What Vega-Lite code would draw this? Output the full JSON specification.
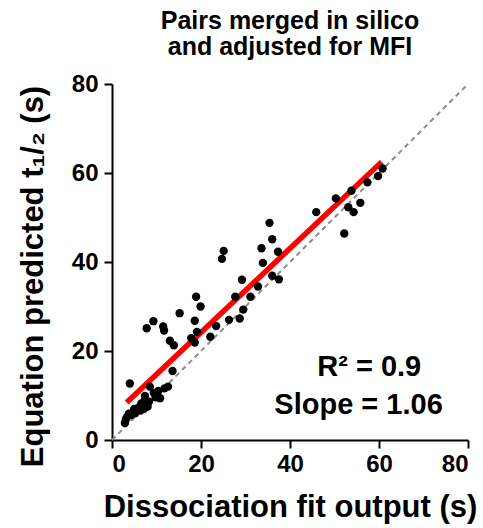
{
  "$schema": "https://vega.github.io/schema/vega-lite/v6.json",
  "width": 356,
  "height": 356,
  "autosize": "none",
  "padding": {"left": 112, "top": 84, "right": 15, "bottom": 88},
  "background": "white",
  "config": {
    "view": {"stroke": null},
    "font": "Liberation Sans",
    "axis": {
      "grid": false,
      "domainColor": "black",
      "domainWidth": 2,
      "tickColor": "black",
      "tickWidth": 2,
      "tickSize": 8,
      "labelFont": "Liberation Sans",
      "labelFontWeight": "bold",
      "labelFontSize": 24,
      "labelColor": "black",
      "titleFont": "Liberation Sans",
      "titleFontWeight": "bold",
      "titleFontSize": 31,
      "titleColor": "black"
    },
    "title": {
      "font": "Liberation Sans",
      "fontWeight": "bold",
      "fontSize": 25,
      "color": "black",
      "lineHeight": 26,
      "anchor": "middle",
      "offset": 12
    }
  },
  "title": {"text": ["Pairs merged in silico", "and adjusted for MFI"]},
  "datasets": {
    "points": [
      {"x": 60.8, "y": 61.0}, {"x": 59.8, "y": 59.3}, {"x": 57.4, "y": 57.9}, {"x": 53.8, "y": 56.0},
      {"x": 50.3, "y": 54.3}, {"x": 55.8, "y": 53.3}, {"x": 53.1, "y": 52.3}, {"x": 54.3, "y": 51.2},
      {"x": 52.2, "y": 46.4}, {"x": 45.9, "y": 51.2},
      {"x": 35.4, "y": 48.8}, {"x": 36.0, "y": 45.1}, {"x": 33.6, "y": 43.1}, {"x": 37.3, "y": 42.3},
      {"x": 33.9, "y": 39.8}, {"x": 36.0, "y": 36.9}, {"x": 37.5, "y": 36.1}, {"x": 32.8, "y": 34.5},
      {"x": 25.1, "y": 42.5}, {"x": 24.7, "y": 40.7}, {"x": 29.2, "y": 36.0}, {"x": 31.1, "y": 32.2},
      {"x": 27.7, "y": 32.2}, {"x": 29.5, "y": 29.3}, {"x": 28.7, "y": 27.3}, {"x": 26.3, "y": 27.0},
      {"x": 23.4, "y": 25.6}, {"x": 22.1, "y": 23.2},
      {"x": 18.9, "y": 32.2}, {"x": 19.9, "y": 30.0}, {"x": 18.6, "y": 26.8}, {"x": 19.1, "y": 24.3},
      {"x": 17.8, "y": 22.9}, {"x": 18.6, "y": 21.9}, {"x": 15.2, "y": 28.5},
      {"x": 9.3, "y": 26.7}, {"x": 7.8, "y": 25.1}, {"x": 11.5, "y": 25.5}, {"x": 11.7, "y": 24.6},
      {"x": 13.0, "y": 22.3}, {"x": 13.9, "y": 21.3}, {"x": 13.6, "y": 15.5},
      {"x": 4.0, "y": 12.7}, {"x": 8.5, "y": 12.0}, {"x": 7.4, "y": 9.9}, {"x": 10.8, "y": 9.4},
      {"x": 9.4, "y": 10.6}, {"x": 10.4, "y": 11.0}, {"x": 11.8, "y": 11.6}, {"x": 12.6, "y": 12.0},
      {"x": 9.8, "y": 9.6},
      {"x": 2.9, "y": 3.8}, {"x": 3.1, "y": 4.6}, {"x": 3.4, "y": 5.2}, {"x": 3.8, "y": 5.9},
      {"x": 4.3, "y": 5.6}, {"x": 4.7, "y": 6.3}, {"x": 5.2, "y": 6.0}, {"x": 5.6, "y": 6.8},
      {"x": 6.0, "y": 7.3}, {"x": 6.4, "y": 6.6}, {"x": 6.8, "y": 7.6}, {"x": 7.2, "y": 7.0},
      {"x": 7.6, "y": 8.1}, {"x": 8.0, "y": 7.5}, {"x": 8.3, "y": 8.6}, {"x": 5.0, "y": 7.0},
      {"x": 6.6, "y": 8.2}, {"x": 7.3, "y": 8.8}
    ],
    "identity": [{"x": 0, "y": 0}, {"x": 80, "y": 80}],
    "fit": [{"x": 3.3, "y": 8.4}, {"x": 60.6, "y": 62.5}],
    "notes": [
      {"x": 57.8, "y": 16.4, "label": "R² = 0.9"},
      {"x": 55.4, "y": 7.9, "label": "Slope = 1.06"}
    ]
  },
  "encoding": {
    "x": {
      "field": "x", "type": "quantitative",
      "scale": {"domain": [0, 80], "nice": false},
      "axis": {"values": [0, 20, 40, 60, 80], "title": "Dissociation fit output (s)", "labelPadding": 4, "titlePadding": 16}
    },
    "y": {
      "field": "y", "type": "quantitative",
      "scale": {"domain": [0, 80], "nice": false},
      "axis": {"values": [0, 20, 40, 60, 80], "title": "Equation predicted t₁/₂ (s)", "labelPadding": 6, "titlePadding": 22, "titleY": 192}
    }
  },
  "layer": [
    {
      "data": {"name": "identity"},
      "mark": {"type": "line", "color": "#8c8c8c", "strokeWidth": 2, "strokeDash": [5, 4]}
    },
    {
      "data": {"name": "fit"},
      "mark": {"type": "line", "color": "#ff0000", "strokeWidth": 5.5}
    },
    {
      "data": {"name": "points"},
      "mark": {"type": "circle", "color": "black", "opacity": 1, "size": 70}
    },
    {
      "data": {"name": "notes"},
      "mark": {"type": "text", "font": "Liberation Sans", "fontWeight": "bold", "fontSize": 29, "color": "black", "align": "center", "baseline": "middle"},
      "encoding": {"text": {"field": "label"}}
    }
  ]
}
